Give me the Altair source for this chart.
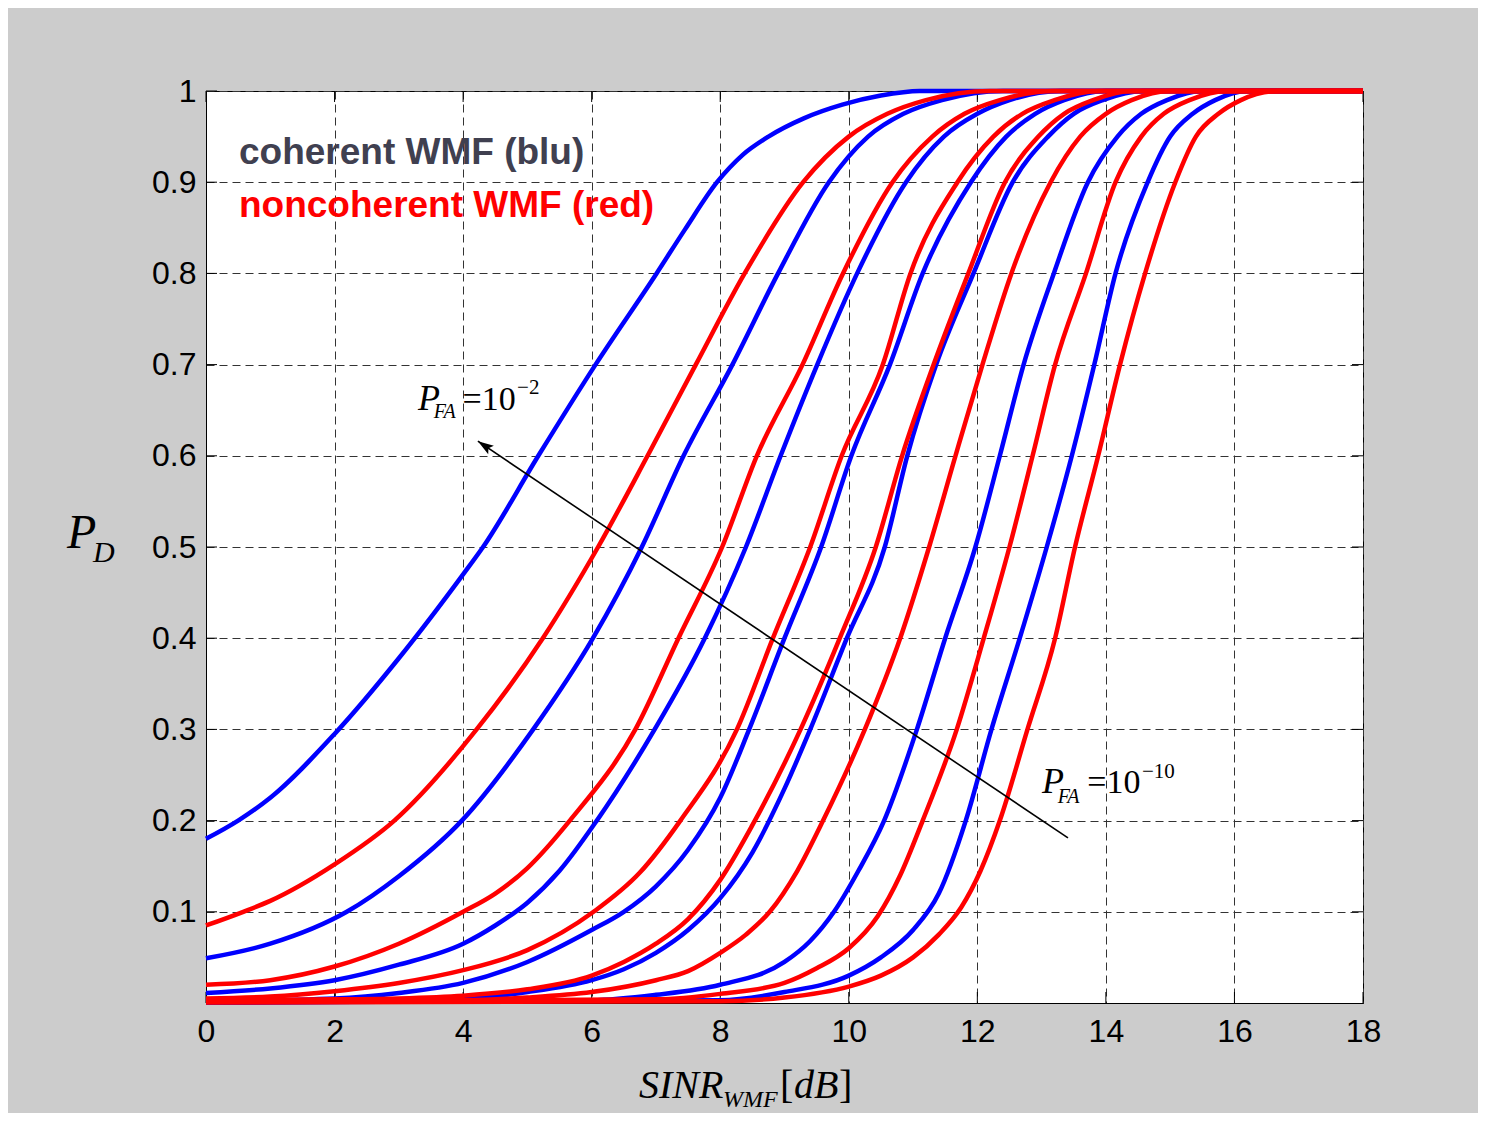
import altair as alt
import pandas as pd

# ---------------- data ----------------
X_TICKS = [0, 2, 4, 6, 8, 10, 12, 14, 16, 18]
Y_TICKS = [0.1, 0.2, 0.3, 0.4, 0.5, 0.6, 0.7, 0.8, 0.9, 1.0]

# coherent WMF (blue), from PFA = 1e-2 (left) to 1e-10 (right)
B1_x = [0, 0.5, 1, 2, 3, 4, 4.31, 5.17, 6.06, 7.01, 7.45, 7.95, 8.35, 8.75, 9.3, 9.9, 10.5, 11.1, 18]
B1_p = [0.18, 0.2, 0.225, 0.295, 0.378, 0.47, 0.5, 0.6, 0.7, 0.8, 0.848, 0.9, 0.93, 0.95, 0.97, 0.985, 0.995, 1, 1]
B2_x = [0, 1, 2.19, 3, 3.98, 5.09, 6.02, 6.78, 7.43, 8.19, 8.90, 9.69, 10.3, 10.85, 11.45, 12.4, 18]
B2_p = [0.049, 0.065, 0.1, 0.139, 0.2, 0.3, 0.4, 0.5, 0.6, 0.7, 0.8, 0.9, 0.95, 0.975, 0.99, 1, 1]
B3_x = [0, 1, 2, 3, 4, 4.5, 5, 5.5, 6.08, 6.98, 7.76, 8.40, 8.94, 9.51, 10.13, 10.89, 11.48, 12.0, 12.5, 13.3, 18]
B3_p = [0.011, 0.016, 0.025, 0.042, 0.065, 0.085, 0.11, 0.145, 0.2, 0.3, 0.4, 0.5, 0.6, 0.7, 0.8, 0.9, 0.95, 0.975, 0.99, 1, 1]
B4_x = [0, 2, 3, 4, 5, 6, 6.5, 7, 7.5, 8, 8.45, 9.0, 9.57, 10.04, 10.64, 11.15, 11.9, 12.45, 12.9, 13.35, 14.0, 18]
B4_p = [0.002, 0.005, 0.011, 0.022, 0.045, 0.08, 0.1, 0.128, 0.168, 0.225, 0.3, 0.4, 0.5, 0.6, 0.7, 0.8, 0.9, 0.95, 0.975, 0.99, 1, 1]
B5_x = [0, 4, 5, 6, 6.5, 7, 7.5, 8, 8.5, 9, 9.4, 9.97, 10.56, 10.91, 11.36, 11.94, 12.55, 13.1, 13.5, 13.95, 14.6, 18]
B5_p = [0.001, 0.005, 0.012, 0.025, 0.037, 0.055, 0.08, 0.115, 0.165, 0.235, 0.3, 0.4, 0.5, 0.6, 0.7, 0.8, 0.9, 0.95, 0.975, 0.99, 1, 1]
B6_x = [0, 6, 7, 8, 9, 9.4, 9.77, 10.15, 10.55, 11.06, 11.5, 11.97, 12.35, 12.72, 13.19, 13.72, 14.18, 14.55, 14.95, 15.5, 18]
B6_p = [0.0005, 0.003, 0.009, 0.02, 0.045, 0.068, 0.1, 0.145, 0.2, 0.3, 0.4, 0.5, 0.6, 0.7, 0.8, 0.9, 0.95, 0.975, 0.99, 1, 1]
B7_x = [0, 8, 9, 10, 10.5, 11, 11.4, 11.82, 12.22, 12.66, 13.08, 13.47, 13.82, 14.15, 14.65, 15.0, 15.35, 15.7, 16.2, 18]
B7_p = [0.0005, 0.003, 0.012, 0.03, 0.05, 0.08, 0.12, 0.2, 0.3, 0.4, 0.5, 0.6, 0.7, 0.8, 0.9, 0.95, 0.975, 0.99, 1, 1]

# noncoherent WMF (red)
R1_x = [0, 0.58, 1, 2, 2.93, 4.21, 5.24, 6.10, 6.87, 7.62, 8.38, 9.29, 10.0, 10.6, 11.2, 12.2, 18]
R1_p = [0.085, 0.1, 0.112, 0.152, 0.2, 0.3, 0.4, 0.5, 0.6, 0.7, 0.8, 0.9, 0.95, 0.975, 0.99, 1, 1]
R2_x = [0, 1, 2, 3, 4, 4.5, 5, 5.66, 6.68, 7.35, 8.03, 8.57, 9.28, 9.91, 10.68, 11.3, 11.8, 12.35, 13.2, 18]
R2_p = [0.02, 0.025, 0.04, 0.065, 0.1, 0.12, 0.148, 0.2, 0.3, 0.4, 0.5, 0.6, 0.7, 0.8, 0.9, 0.95, 0.975, 0.99, 1, 1]
R3_x = [0, 1, 2, 3, 4, 5, 6.03, 6.75, 7.38, 8.26, 8.82, 9.40, 9.89, 10.53, 10.96, 11.69, 12.25, 12.7, 13.2, 13.9, 18]
R3_p = [0.005, 0.007, 0.013, 0.022, 0.036, 0.058, 0.1, 0.143, 0.2, 0.3, 0.4, 0.5, 0.6, 0.7, 0.8, 0.9, 0.95, 0.975, 0.99, 1, 1]
R4_x = [0, 2, 3, 4, 5, 6, 6.5, 7, 7.5, 8, 8.5, 9.25, 9.86, 10.42, 10.83, 11.32, 11.86, 12.43, 12.95, 13.35, 13.8, 14.4, 18]
R4_p = [0.003, 0.004, 0.005, 0.008, 0.015, 0.03, 0.045, 0.065, 0.092, 0.135, 0.195, 0.3, 0.4, 0.5, 0.6, 0.7, 0.8, 0.9, 0.95, 0.975, 0.99, 1, 1]
R5_x = [0, 4, 5, 6, 7, 7.5, 8, 8.4, 8.77, 9.2, 9.6, 10.25, 10.8, 11.25, 11.66, 12.08, 12.53, 13.14, 13.6, 14.0, 14.4, 15.0, 18]
R5_p = [0.002, 0.003, 0.006, 0.012, 0.025, 0.035, 0.055, 0.075, 0.1, 0.145, 0.2, 0.3, 0.4, 0.5, 0.6, 0.7, 0.8, 0.9, 0.95, 0.975, 0.99, 1, 1]
R6_x = [0, 7, 8, 9, 9.5, 10, 10.45, 10.8, 11.15, 11.68, 12.1, 12.5, 12.86, 13.21, 13.69, 14.15, 14.55, 14.9, 15.3, 15.9, 18]
R6_p = [0.001, 0.004, 0.01, 0.022, 0.038, 0.06, 0.095, 0.14, 0.2, 0.3, 0.4, 0.5, 0.6, 0.7, 0.8, 0.9, 0.95, 0.975, 0.99, 1, 1]
R7_x = [0, 8, 9, 10, 10.5, 11, 11.4, 11.75, 12.05, 12.35, 12.78, 13.21, 13.52, 13.88, 14.22, 14.61, 15.08, 15.4, 15.75, 16.1, 16.7, 18]
R7_p = [0.0005, 0.002, 0.006, 0.018, 0.03, 0.05, 0.075, 0.105, 0.145, 0.2, 0.3, 0.4, 0.5, 0.6, 0.7, 0.8, 0.9, 0.95, 0.975, 0.99, 1, 1]

BLUE = {"B1": (B1_x, B1_p), "B2": (B2_x, B2_p), "B3": (B3_x, B3_p), "B4": (B4_x, B4_p),
        "B5": (B5_x, B5_p), "B6": (B6_x, B6_p), "B7": (B7_x, B7_p)}
RED = {"R1": (R1_x, R1_p), "R2": (R2_x, R2_p), "R3": (R3_x, R3_p), "R4": (R4_x, R4_p),
       "R5": (R5_x, R5_p), "R6": (R6_x, R6_p), "R7": (R7_x, R7_p)}

# arrow annotation (SINR dB, PD)
ARROW_FROM = (13.41, 0.181)
ARROW_TO = (4.23, 0.616)


def frame(curves):
    rows = []
    for name, (xs, ps) in curves.items():
        for i, (x, p) in enumerate(zip(xs, ps)):
            rows.append({"curve": name, "SINR": x, "PD": p, "i": i})
    return pd.DataFrame(rows)


W, H = 1157, 912
ONE = pd.DataFrame({"k": [0]})

xscale = alt.Scale(domain=[0, 18], nice=False, zero=False)
yscale = alt.Scale(domain=[0, 1], nice=False, zero=False)

grid_kw = dict(grid=True, gridDash=[8, 5], gridColor="#333333", gridWidth=1, gridOpacity=1,
               domain=True, domainColor="black", domainWidth=1, ticks=False,
               labelFont="Liberation Sans", labelFontSize=32, labelColor="black",
               labelFlush=False, labelOverlap=False, title=None)
x_axis = alt.Axis(values=X_TICKS, labelPadding=13,
                  labelExpr="format(datum.value, 'd')", **grid_kw)
y_axis = alt.Axis(values=Y_TICKS, labelPadding=10,
                  labelExpr="datum.value >= 1 ? '1' : format(datum.value, '.1f')", **grid_kw)


def lines(curves, color):
    return alt.Chart(frame(curves)).mark_line(
        color=color, strokeWidth=4.5, interpolate="monotone", clip=False
    ).encode(
        x=alt.X("SINR:Q", scale=xscale, axis=x_axis),
        y=alt.Y("PD:Q", scale=yscale, axis=y_axis),
        detail="curve:N",
        order="i:Q",
    )


blue = lines(BLUE, "#0000ff")
red = lines(RED, "#ff0000")

# inward ticks on all four sides
xt = pd.DataFrame({"t": X_TICKS})
yt = pd.DataFrame({"t": Y_TICKS})
TL = 11
xt_bot = alt.Chart(xt).mark_rule(color="black", strokeWidth=1).encode(
    x=alt.X("t:Q", scale=xscale, axis=x_axis), y=alt.value(H), y2=alt.value(H - TL))
xt_top = alt.Chart(xt).mark_rule(color="black", strokeWidth=1).encode(
    x=alt.X("t:Q", scale=xscale, axis=x_axis), y=alt.value(0), y2=alt.value(TL))
yt_left = alt.Chart(yt).mark_rule(color="black", strokeWidth=1).encode(
    y=alt.Y("t:Q", scale=yscale, axis=y_axis), x=alt.value(0), x2=alt.value(TL))
yt_right = alt.Chart(yt).mark_rule(color="black", strokeWidth=1).encode(
    y=alt.Y("t:Q", scale=yscale, axis=y_axis), x=alt.value(W - TL), x2=alt.value(W))

arrow_line = alt.Chart(ONE).mark_rule(color="black", strokeWidth=1.6).encode(
    x=alt.datum(ARROW_FROM[0]), y=alt.datum(ARROW_FROM[1]),
    x2=alt.datum(ARROW_TO[0]), y2=alt.datum(ARROW_TO[1]))
arrow_head = alt.Chart(ONE).mark_point(
    shape="M0,0L-0.32,1L0,0.8L0.32,1Z", filled=True, size=1000, angle=303.8,
    color="black", opacity=1, strokeWidth=0
).encode(x=alt.datum(ARROW_TO[0]), y=alt.datum(ARROW_TO[1]))


def txt(x, y, s, size, color="black", font="Liberation Serif", italic=False, bold=False, pixel=False):
    mk = alt.Chart(ONE).mark_text(
        text=s, align="left", baseline="alphabetic", font=font, fontSize=size,
        fontStyle="italic" if italic else "normal",
        fontWeight="bold" if bold else "normal", color=color)
    if pixel:
        return mk.encode(x=alt.value(x), y=alt.value(y))
    return mk.encode(x=alt.datum(x), y=alt.datum(y))


texts = [
    # legend text
    txt(0.513, 0.920, "coherent WMF (blu)", 37, color="#404050", font="Liberation Sans", bold=True),
    txt(0.513, 0.862, "noncoherent WMF (red)", 37, color="#ff0000", font="Liberation Sans", bold=True),
    # P_FA = 10^-2
    txt(3.298, 0.6505, "P", 36, italic=True),
    txt(3.545, 0.6417, "FA", 20, italic=True),
    txt(3.99, 0.6505, "=10", 34),
    txt(4.84, 0.6681, "\u22122", 21),
    # P_FA = 10^-10
    txt(13.005, 0.2304, "P", 36, italic=True),
    txt(13.25, 0.2194, "FA", 20, italic=True),
    txt(13.71, 0.2304, "=10", 34),
    txt(14.56, 0.2468, "\u221210", 21),
    # y title P_D
    txt(-139, 457, "P", 48, italic=True, pixel=True),
    txt(-113, 471, "D", 30, italic=True, pixel=True),
    # x title SINR_WMF[dB]
    txt(433, 1007, "SINR", 40, italic=True, pixel=True),
    txt(517, 1016, "WMF", 24, italic=True, pixel=True),
    txt(574, 1007, "[", 40, pixel=True),
    txt(588, 1007, "dB", 40, italic=True, pixel=True),
    txt(633, 1007, "]", 40, pixel=True),
]

chart = alt.layer(
    xt_bot, xt_top, yt_left, yt_right, blue, red, arrow_line, arrow_head, *texts
).properties(
    width=W, height=H, background="#cccccc",
    padding={"left": 198, "top": 83, "right": 115, "bottom": 110},
    autosize=alt.AutoSizeParams(type="none"),
).configure_view(
    fill="white", stroke="black", strokeWidth=1
)

chart.save("out.html", embed_options={"renderer": "svg", "actions": False})
